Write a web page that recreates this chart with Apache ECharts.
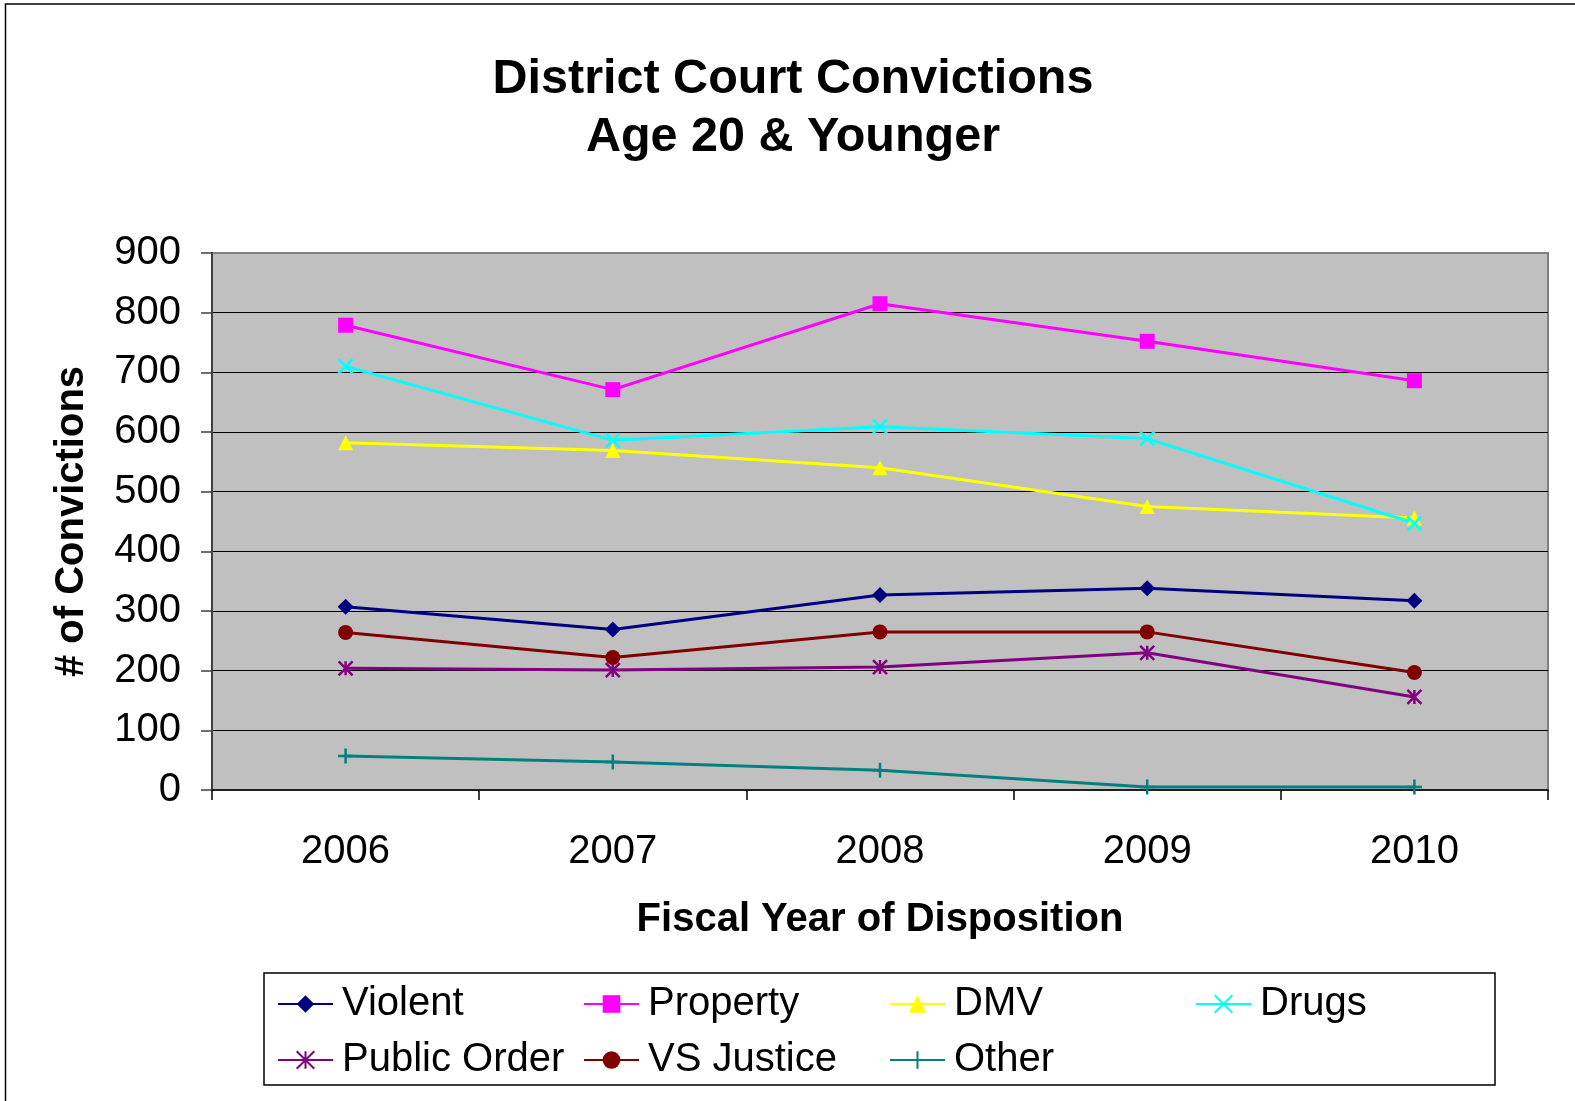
<!DOCTYPE html>
<html>
<head>
<meta charset="utf-8">
<script src="https://cdn.jsdelivr.net/npm/echarts@6/dist/echarts.min.js"></script>
<style>
  html, body { margin: 0; padding: 0; background: #fff; }
  #chart { width: 1575px; height: 1101px; }
</style>
</head>
<body>
<div id="chart"></div>
<script>
// Fiscal years of disposition
const years = ['2006', '2007', '2008', '2009', '2010'];

// Convictions per offense category, age 20 and younger
const violent     = [307, 269, 327, 338, 317];
const property    = [779, 671, 815, 752, 686];
const dmv         = [582, 569, 540, 475, 456];
const drugs       = [710, 586, 609, 589, 447];
const publicOrder = [204, 201, 206, 230, 156];
const vsJustice   = [264, 222, 265, 265, 197];
const other       = [57, 47, 33, 5, 5];

const yTicks = { min: 0, max: 900, step: 100 };

const FONT = '"Liberation Sans", Arial, sans-serif';

// Stroke-only marker shapes
const SYM_X = 'path://M0,0L10,10M10,0L0,10';
const SYM_STAR = 'path://M0,0L10,10M10,0L0,10M5,0L5,10';
const SYM_PLUS = 'path://M5,0L5,10M0,5L10,5';

const seriesDefs = [
  { name: 'Violent',      data: violent,     color: '#000080', symbol: 'diamond',  size: 16, stroke: false },
  { name: 'Property',     data: property,    color: '#FF00FF', symbol: 'rect',     size: 15, stroke: false },
  { name: 'DMV',          data: dmv,         color: '#FFFF00', symbol: 'triangle', size: 15, stroke: false },
  { name: 'Drugs',        data: drugs,       color: '#00FFFF', symbol: SYM_X,      size: 14, stroke: true },
  { name: 'Public Order', data: publicOrder, color: '#800080', symbol: SYM_STAR,   size: 14, stroke: true },
  { name: 'VS Justice',   data: vsJustice,   color: '#800000', symbol: 'circle',   size: 15, stroke: false },
  { name: 'Other',        data: other,       color: '#008080', symbol: SYM_PLUS,   size: 15, stroke: true }
];

// Legend grid: 4 columns, 2 rows
const legendCols = 4;
const legendLeft0 = 277;
const legendColStep = 306;
const legendRowTop = [984, 1040];

const chart = echarts.init(document.getElementById('chart'), null, { renderer: 'canvas' });

const series = seriesDefs.map(d => ({
  name: d.name,
  type: 'line',
  data: d.data,
  symbol: d.symbol,
  symbolSize: d.size,
  showSymbol: true,
  animation: false,
  color: d.color,
  lineStyle: { color: d.color, width: 3 },
  itemStyle: d.stroke
    ? { color: d.color, borderColor: d.color, borderWidth: 2.5 }
    : { color: d.color, borderWidth: 0 },
  emphasis: { disabled: true }
}));

const legends = seriesDefs.map((d, i) => ({
  data: [d.name],
  orient: 'horizontal',
  left: legendLeft0 + (i % legendCols) * legendColStep,
  top: legendRowTop[Math.floor(i / legendCols)],
  padding: 0,
  itemWidth: 55,
  itemHeight: 22,
  selectedMode: false,
  z: 5,
  textStyle: { fontFamily: FONT, fontSize: 40, color: '#000', padding: [0, 0, 0, 4] }
}));

chart.setOption({
  animation: false,
  backgroundColor: '#fff',
  title: {
    text: 'District Court Convictions\nAge 20 & Younger',
    left: 793,
    top: 51,
    padding: 0,
    textAlign: 'center',
    textStyle: { fontFamily: FONT, fontSize: 48.5, fontWeight: 'bold', color: '#000', lineHeight: 58 }
  },
  legend: legends,
  grid: {
    left: 212, top: 253, right: 27, bottom: 311,
    show: true,
    backgroundColor: '#C0C0C0',
    borderColor: '#808080',
    borderWidth: 2,
    containLabel: false
  },
  xAxis: {
    type: 'category',
    data: years,
    boundaryGap: true,
    name: 'Fiscal Year of Disposition',
    nameLocation: 'middle',
    nameGap: 110,
    nameTextStyle: { fontFamily: FONT, fontSize: 40, fontWeight: 'bold', color: '#000' },
    axisLine: { show: true, lineStyle: { color: '#000', width: 1.5 } },
    axisTick: { show: true, inside: false, length: 10, alignWithLabel: false, lineStyle: { color: '#000', width: 1.5 } },
    axisLabel: { margin: 42, fontFamily: FONT, fontSize: 40, color: '#000' },
    splitLine: { show: false }
  },
  yAxis: {
    type: 'value',
    min: yTicks.min,
    max: yTicks.max,
    interval: yTicks.step,
    name: '# of Convictions',
    nameLocation: 'middle',
    nameRotate: 90,
    nameGap: 120,
    nameTextStyle: { fontFamily: FONT, fontSize: 40, fontWeight: 'bold', color: '#000' },
    axisLine: { show: true, lineStyle: { color: '#404040', width: 2 } },
    axisTick: { show: true, inside: false, length: 11, lineStyle: { color: '#404040', width: 1.5 } },
    axisLabel: { margin: 31, fontFamily: FONT, fontSize: 40, color: '#000' },
    splitLine: { show: true, showMinLine: false, showMaxLine: false, lineStyle: { color: '#000', width: 1 } }
  },
  graphic: [
    {
      type: 'rect', z: 0, silent: true,
      shape: { x: 5.5, y: 4, width: 1700, height: 1300 },
      style: { fill: 'none', stroke: '#000', lineWidth: 1.5 }
    },
    {
      type: 'rect', z: 1, silent: true,
      shape: { x: 264, y: 973, width: 1231, height: 112 },
      style: { fill: '#fff', stroke: '#000', lineWidth: 1.5 }
    }
  ],
  series: series
});
</script>
</body>
</html>
